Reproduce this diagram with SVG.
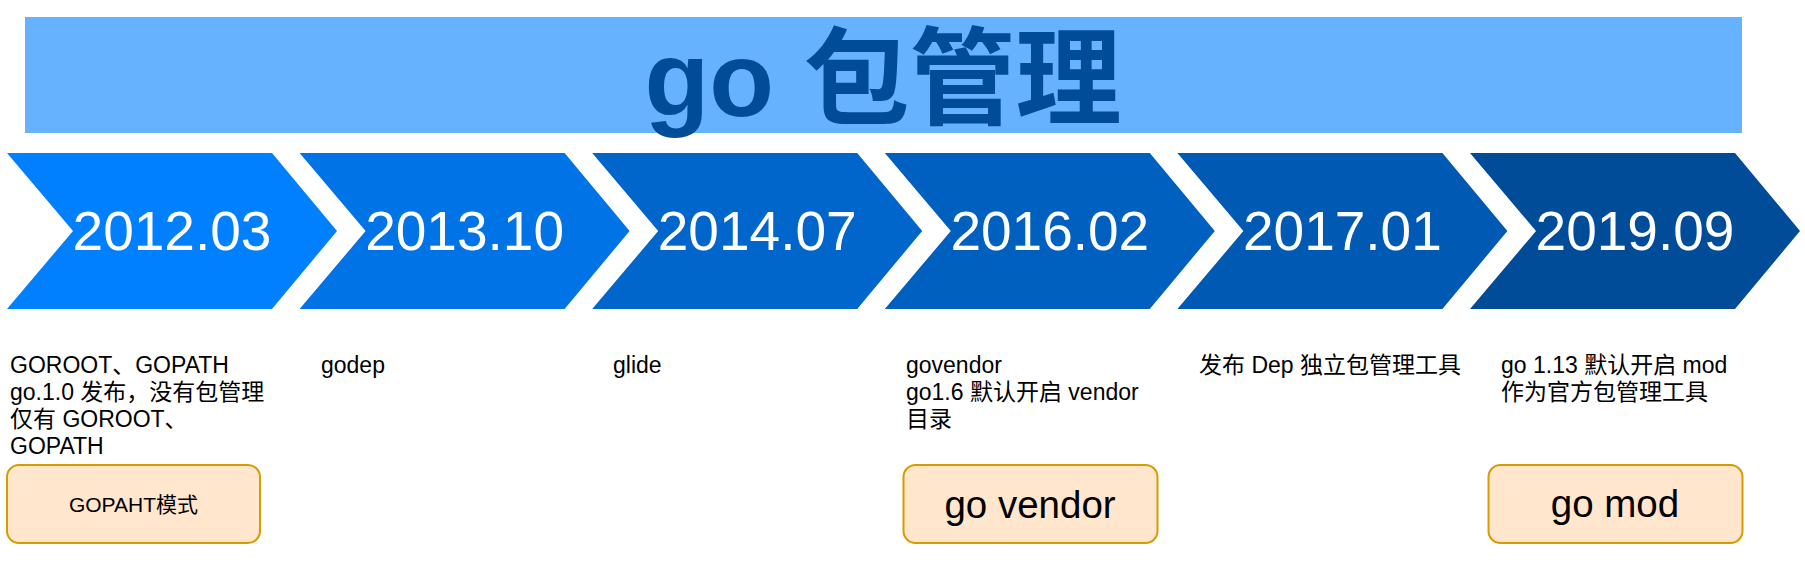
<svg xmlns="http://www.w3.org/2000/svg" width="1805" height="580" viewBox="0 0 1805 580">
<style>
  .t { font-family: "Liberation Sans", "Noto Sans CJK SC", sans-serif; }
  .year { font-family: "Liberation Sans", Arial, sans-serif; font-size: 55px; fill: #ffffff; text-anchor: middle; }
  .note { font-family: "Liberation Sans", "Noto Sans CJK SC", sans-serif; font-size: 23px; fill: #000000; }
  .box { fill: #FFE6CC; stroke: #D79B00; stroke-width: 2; }
  .boxtext { font-family: "Liberation Sans", "Noto Sans CJK SC", sans-serif; fill: #000000; text-anchor: middle; }
</style>
<defs>
  <path id="chev" d="M0,153 H265 L330,231 L265,309 H0 L66,231 Z"/>
</defs>
<rect width="1805" height="580" fill="#ffffff"/>

<g id="title">
  <rect x="25" y="17" width="1717" height="116" fill="#66B2FF"/>
  <text x="883" y="116" class="t" font-size="106" font-weight="bold" fill="#004C99" text-anchor="middle">go 包管理</text>
</g>

<g id="step-2012-03">
  <use href="#chev" x="7" fill="#007FFF"/>
  <text x="172" y="250" class="year">2012.03</text>
</g>
<g id="step-2013-10">
  <use href="#chev" x="299.6" fill="#0073E6"/>
  <text x="464.6" y="250" class="year">2013.10</text>
</g>
<g id="step-2014-07">
  <use href="#chev" x="592.2" fill="#0066CC"/>
  <text x="757.2" y="250" class="year">2014.07</text>
</g>
<g id="step-2016-02">
  <use href="#chev" x="884.8" fill="#0060C0"/>
  <text x="1049.8" y="250" class="year">2016.02</text>
</g>
<g id="step-2017-01">
  <use href="#chev" x="1177.4" fill="#0059B3"/>
  <text x="1342.4" y="250" class="year">2017.01</text>
</g>
<g id="step-2019-09">
  <use href="#chev" x="1470" fill="#004C99"/>
  <text x="1635" y="250" class="year">2019.09</text>
</g>

<g id="note-2012-03">
  <text class="note" x="10" y="373">GOROOT、GOPATH</text>
  <text class="note" x="10" y="400">go.1.0 发布，没有包管理</text>
  <text class="note" x="10" y="427">仅有 GOROOT、</text>
  <text class="note" x="10" y="454">GOPATH</text>
</g>
<g id="note-2013-10">
  <text class="note" x="321" y="373">godep</text>
</g>
<g id="note-2014-07">
  <text class="note" x="613" y="373">glide</text>
</g>
<g id="note-2016-02">
  <text class="note" x="906" y="373">govendor</text>
  <text class="note" x="906" y="400">go1.6 默认开启 vendor</text>
  <text class="note" x="906" y="427">目录</text>
</g>
<g id="note-2017-01">
  <text class="note" x="1199" y="373">发布 Dep 独立包管理工具</text>
</g>
<g id="note-2019-09">
  <text class="note" x="1501" y="373">go 1.13 默认开启 mod</text>
  <text class="note" x="1501" y="400">作为官方包管理工具</text>
</g>

<g id="box-gopath">
  <rect class="box" x="7" y="465" width="253" height="78" rx="12"/>
  <text class="boxtext" x="133.5" y="512" font-size="21">GOPAHT模式</text>
</g>
<g id="box-govendor">
  <rect class="box" x="903.5" y="465" width="254" height="78" rx="12"/>
  <text class="boxtext" x="1030" y="518" font-size="38.5">go vendor</text>
</g>
<g id="box-gomod">
  <rect class="box" x="1488.5" y="465" width="254" height="78" rx="12"/>
  <text class="boxtext" x="1615" y="517" font-size="38.5">go mod</text>
</g>

<g id="connectors"/>
</svg>
